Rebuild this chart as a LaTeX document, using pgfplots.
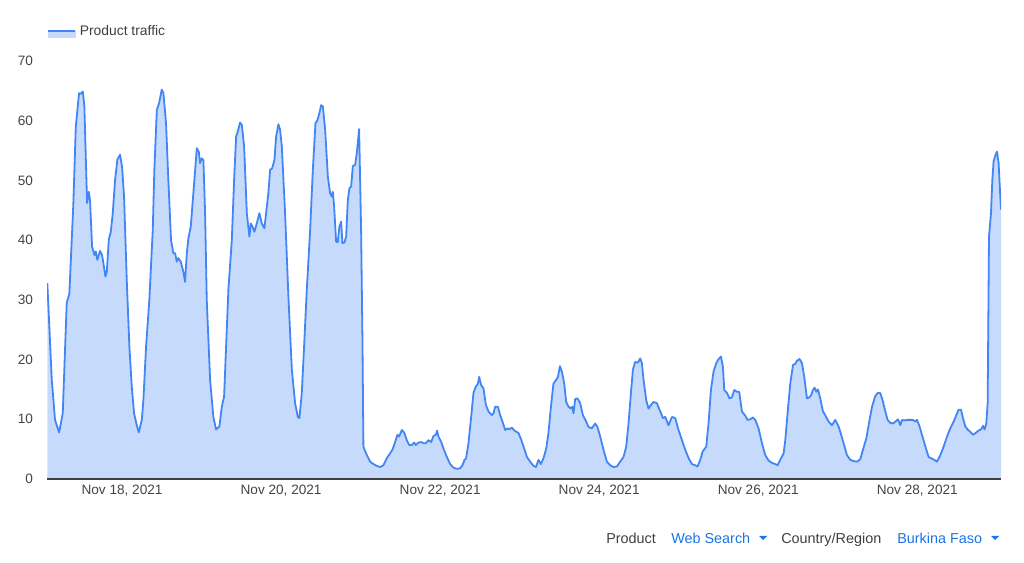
\documentclass[border=0pt]{standalone}
\usepackage{pgfplots}
\usepackage{pgfplotstable}
\pgfplotsset{compat=1.18}
\usepackage{fontspec}
\setmainfont{Liberation Sans}
\definecolor{linec}{HTML}{4285F4}
\definecolor{fillc}{HTML}{C6DAFC}
\definecolor{tickc}{HTML}{444444}
\definecolor{blueT}{HTML}{1A73E8}
\definecolor{darkT}{HTML}{3C4043}

\pgfplotstableread{
d v
17.060 32.8
17.116 16.6
17.157 9.9
17.208 7.8
17.254 11.0
17.304 29.5
17.337 31.0
17.387 46.0
17.418 59.0
17.459 64.6
17.481 64.5
17.506 64.9
17.526 62.4
17.560 46.2
17.581 48.1
17.597 46.7
17.623 38.9
17.652 37.5
17.669 38.1
17.689 36.7
17.723 38.2
17.748 37.5
17.765 36.2
17.790 33.9
17.808 34.7
17.833 40.1
17.858 41.4
17.883 44.5
17.912 50.1
17.941 53.5
17.975 54.3
18.000 52.3
18.025 47.3
18.059 33.3
18.092 22.2
18.122 15.5
18.151 11.0
18.185 9.0
18.210 7.8
18.248 9.9
18.268 13.2
18.302 22.2
18.343 30.0
18.386 41.7
18.406 51.8
18.437 61.8
18.465 62.9
18.499 65.2
18.520 64.6
18.553 59.6
18.582 50.1
18.616 40.0
18.645 37.8
18.667 37.8
18.688 36.4
18.708 37.0
18.738 36.4
18.771 34.7
18.792 33.0
18.814 37.8
18.834 40.3
18.864 42.3
18.906 49.5
18.940 55.4
18.965 54.8
18.981 52.9
19.003 53.7
19.023 53.4
19.044 44.6
19.065 30.0
19.107 16.6
19.148 10.4
19.182 8.3
19.224 8.8
19.254 12.1
19.283 13.8
19.337 31.7
19.380 40.0
19.409 50.1
19.434 57.3
19.455 58.2
19.484 59.7
19.506 59.3
19.535 55.7
19.569 44.5
19.601 40.6
19.619 42.8
19.639 42.3
19.664 41.4
19.694 42.8
19.727 44.5
19.757 42.8
19.790 42.0
19.811 44.5
19.840 47.9
19.862 51.8
19.887 52.0
19.916 53.4
19.937 57.3
19.966 59.4
19.987 58.5
20.009 55.7
20.050 44.5
20.092 30.5
20.135 18.3
20.176 12.7
20.210 10.4
20.230 10.2
20.260 14.4
20.289 22.2
20.323 31.7
20.365 41.7
20.399 51.8
20.432 59.6
20.457 60.1
20.482 61.3
20.503 62.6
20.525 62.4
20.554 58.5
20.588 50.6
20.616 47.9
20.638 47.3
20.650 48.1
20.667 45.6
20.692 39.7
20.713 39.7
20.733 42.3
20.755 43.1
20.771 39.5
20.796 39.6
20.818 40.6
20.839 46.7
20.859 48.7
20.881 49.0
20.902 52.4
20.931 52.6
20.952 54.6
20.981 58.6
21.006 41.7
21.023 23.3
21.035 5.4
21.078 4.0
21.120 2.9
21.161 2.5
21.204 2.2
21.245 2.0
21.287 2.3
21.330 3.5
21.371 4.3
21.400 4.9
21.434 6.2
21.463 7.4
21.484 7.1
21.518 8.2
21.547 7.8
21.581 6.5
21.610 5.7
21.644 5.7
21.673 6.1
21.694 5.7
21.727 6.1
21.761 6.2
21.790 6.0
21.820 6.0
21.853 6.5
21.887 6.2
21.916 7.2
21.946 7.4
21.962 8.1
21.979 7.1
22.013 6.2
22.042 5.1
22.084 3.7
22.126 2.5
22.167 1.9
22.210 1.7
22.252 1.8
22.281 2.3
22.306 3.2
22.327 3.5
22.356 6.0
22.390 10.4
22.419 14.4
22.449 15.5
22.474 15.9
22.491 17.1
22.516 15.7
22.545 15.2
22.575 12.4
22.608 11.3
22.650 10.7
22.671 11.0
22.692 12.1
22.726 12.1
22.755 10.7
22.784 9.6
22.818 8.2
22.847 8.5
22.868 8.3
22.902 8.6
22.935 8.1
22.985 7.7
23.019 6.6
23.057 5.1
23.091 3.7
23.132 2.9
23.174 2.2
23.204 2.0
23.237 3.2
23.267 2.5
23.300 3.5
23.334 5.1
23.362 7.7
23.393 12.1
23.425 16.0
23.459 16.6
23.481 17.1
23.506 18.9
23.531 18.0
23.560 16.0
23.585 12.9
23.614 12.1
23.644 11.8
23.661 12.1
23.677 11.0
23.698 13.4
23.727 13.5
23.761 12.7
23.795 10.7
23.837 9.6
23.866 8.7
23.908 8.5
23.950 9.3
23.979 8.7
24.013 7.1
24.054 4.9
24.097 2.9
24.139 2.3
24.180 2.0
24.223 2.1
24.264 2.9
24.306 3.7
24.340 5.4
24.369 9.3
24.399 14.4
24.424 18.3
24.453 19.6
24.487 19.5
24.516 20.2
24.537 19.4
24.558 16.6
24.592 13.2
24.620 11.8
24.651 12.4
24.683 12.9
24.726 12.7
24.759 11.6
24.802 10.2
24.830 10.4
24.872 9.0
24.915 10.4
24.956 10.2
24.998 8.2
25.041 6.5
25.082 4.9
25.124 3.5
25.166 2.5
25.208 2.3
25.237 2.1
25.271 3.2
25.300 4.6
25.346 5.4
25.375 9.3
25.405 14.9
25.438 18.0
25.472 19.4
25.501 20.1
25.531 20.5
25.556 18.8
25.573 14.9
25.607 14.4
25.639 13.5
25.670 13.7
25.698 14.9
25.732 14.6
25.761 14.6
25.795 11.3
25.837 10.6
25.866 9.9
25.900 10.0
25.934 10.3
25.963 9.9
26.004 8.5
26.047 6.0
26.088 4.0
26.130 3.1
26.173 2.7
26.214 2.5
26.243 2.3
26.277 3.2
26.319 4.3
26.340 6.5
26.369 11.0
26.403 16.0
26.437 19.1
26.466 19.3
26.487 19.8
26.520 20.1
26.550 19.4
26.579 17.1
26.613 13.5
26.646 13.7
26.667 14.1
26.688 14.9
26.708 15.3
26.730 14.6
26.751 15.0
26.780 13.5
26.814 11.3
26.843 10.7
26.885 9.6
26.927 9.0
26.969 9.9
27.010 8.8
27.032 7.9
27.073 6.0
27.116 4.0
27.158 3.2
27.199 3.0
27.242 2.9
27.283 3.3
27.317 4.9
27.359 6.8
27.400 9.9
27.431 12.1
27.472 13.9
27.501 14.4
27.535 14.4
27.564 13.2
27.598 11.3
27.627 9.9
27.661 9.4
27.695 9.3
27.724 9.6
27.758 10.0
27.787 9.0
27.808 9.9
27.837 9.8
27.871 9.9
27.912 9.9
27.946 9.9
27.975 9.6
27.997 9.9
28.029 8.8
28.059 7.4
28.101 5.5
28.142 3.7
28.185 3.4
28.214 3.2
28.248 2.9
28.290 4.0
28.331 5.4
28.374 7.1
28.415 8.5
28.457 9.6
28.491 10.7
28.520 11.6
28.550 11.6
28.575 10.2
28.604 8.8
28.633 8.3
28.667 7.9
28.701 7.4
28.734 7.7
28.768 8.1
28.802 8.3
28.827 8.9
28.847 8.3
28.868 9.3
28.885 12.7
28.902 40.6
28.927 44.5
28.944 50.1
28.960 53.2
28.985 54.3
29.003 54.8
29.023 52.9
29.044 47.3
29.053 45.1
}\traffic

\begin{document}
\begin{tikzpicture}[x=0.75bp,y=0.75bp]
\useasboundingbox (0,0) rectangle (1024,563);
\begin{axis}[
  at={(35.25bp,63bp)}, anchor=south west,
  scale only axis, width=715.5bp, height=313.5bp,
  xmin=17.056, xmax=29.053, ymin=0, ymax=70,
  axis lines*=left,
  y axis line style={draw=none},
  x axis line style={draw=black!75, line width=0.8bp},
  axis on top,
  major tick length=0pt,
  xtick={18,20,22,24,26,28},
  xticklabels={{Nov 18, 2021},{Nov 20, 2021},{Nov 22, 2021},{Nov 24, 2021},{Nov 26, 2021},{Nov 28, 2021}},
  ytick={0,10,20,30,40,50,60,70},
  tick label style={font=\fontsize{10.2bp}{12bp}\selectfont, text=tickc},
  yticklabel style={xshift=-7bp},
  xticklabel style={yshift=-1bp},
  /pgf/number format/assume math mode=true,
  legend style={at={(0,1)}, anchor=west, yshift=22.5bp, draw=none, fill=none,
    inner sep=0pt, font=\fontsize{10.4bp}{12bp}\selectfont, text=darkT},
  legend cell align=left,
]
\addlegendimage{legend image code/.code={
  \fill[fillc] (0bp,-5bp) rectangle (20bp,0bp);
  \draw[linec, line width=1.5bp] (0bp,0bp) -- (20bp,0bp);
  \path (21.5bp,0bp);}}
\addlegendentry{Product traffic}
\addplot[fill=fillc, draw=none, forget plot] table[x=d,y=v]{\traffic} \closedcycle;
\addplot[linec, line width=1.35bp, line join=round, forget plot] table[x=d,y=v]{\traffic};
\end{axis}
\begin{scope}[every node/.style={anchor=base west, inner sep=0pt, font=\fontsize{10.8bp}{12bp}\selectfont}]
\node[text=darkT] at (606,20) {Product};
\node[text=blueT] at (671,20) {Web Search};
\fill[blueT] (759,27) -- (767,27) -- (763,23) -- cycle;
\node[text=darkT] at (781,20) {Country/Region};
\node[text=blueT] at (897,20) {Burkina Faso};
\fill[blueT] (991,27) -- (999,27) -- (995,23) -- cycle;
\end{scope}
\end{tikzpicture}
\end{document}
